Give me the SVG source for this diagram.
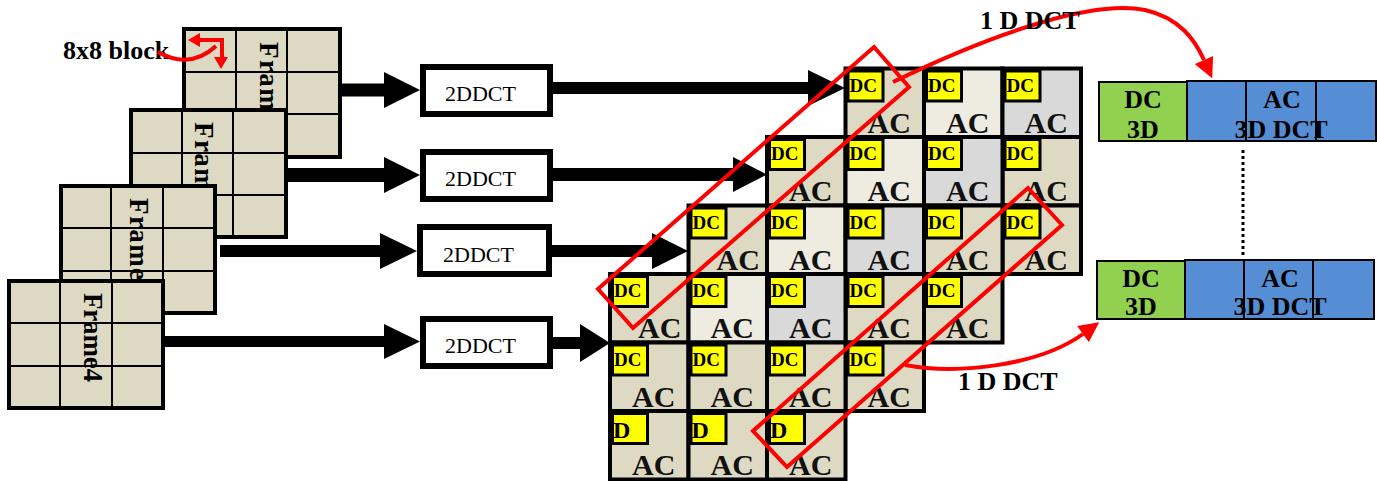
<svg xmlns="http://www.w3.org/2000/svg" width="1377" height="481" viewBox="0 0 1377 481">
<style>
.fr{fill:#DDD9C3;stroke:#000;stroke-width:4}
.fl{stroke:#000;stroke-width:2;fill:none}
.ft{font-family:"Liberation Serif",serif;font-weight:bold;font-size:27px;fill:#000}
.bx{fill:#fff;stroke:#000;stroke-width:6}
.bt{font-family:"Liberation Serif",serif;font-size:22px;fill:#000}
.ar{fill:#000}
.cb{fill:#DDD9C3;stroke:#000;stroke-width:4}
.cw{fill:#EEECE1;stroke:#000;stroke-width:4}
.cg{fill:#D9D9D9;stroke:#000;stroke-width:4}
.dc{fill:#FFFF00;stroke:#000;stroke-width:3}
.dt{font-family:"Liberation Serif",serif;font-weight:bold;font-size:19px;fill:#000}
.dd{font-family:"Liberation Serif",serif;font-weight:bold;font-size:24px;fill:#000}
.at{font-family:"Liberation Serif",serif;font-weight:bold;font-size:30px;fill:#111}
.rr{fill:none;stroke:#FF0000;stroke-width:4}
.lb{font-family:"Liberation Serif",serif;font-weight:bold;font-size:26px;fill:#000}
.gr{fill:#92D050;stroke:#000;stroke-width:2}
.bl{fill:#558ED5;stroke:#000;stroke-width:2}
.rt{font-family:"Liberation Serif",serif;font-weight:bold;font-size:26px;fill:#000;text-anchor:middle}
</style>
<defs>
<marker id="rh" viewBox="0 0 10 10" refX="0" refY="5" markerWidth="22" markerHeight="20" markerUnits="userSpaceOnUse" orient="auto">
<path d="M0,0 L10,5 L0,10 z" fill="#FF0000"/>
</marker>
</defs>

<!-- Frames -->
<g id="frame1">
<rect class="fr" x="184" y="29" width="156" height="128"/>
<path class="fl" d="M236,29V157M287,29V157M184,72H340M184,114H340"/>
<text class="ft" transform="translate(260,42) rotate(90)" textLength="82" lengthAdjust="spacing">Frame</text>
</g>
<g id="frame2">
<rect class="fr" x="131" y="110" width="155" height="127"/>
<path class="fl" d="M182,110V237M233,110V237M131,153H286M131,195H286"/>
<text class="ft" transform="translate(195,122) rotate(90)" textLength="82" lengthAdjust="spacing">Frame</text>
</g>
<g id="frame3">
<rect class="fr" x="61" y="186" width="154" height="127"/>
<path class="fl" d="M111,186V313M163,186V313M61,228H215M61,271H215"/>
<text class="ft" transform="translate(130,198) rotate(90)" textLength="82" lengthAdjust="spacing">Frame</text>
</g>
<g id="frame4">
<rect class="fr" x="9" y="281" width="154" height="127"/>
<path class="fl" d="M60,281V408M112,281V408M9,323H163M9,366H163"/>
<text class="ft" transform="translate(84,293) rotate(90)" textLength="89" lengthAdjust="spacing">Frame4</text>
</g>

<g id="label-8x8">
<text class="lb" x="63" y="59">8x8 block</text>
</g>

<!-- 2DDCT boxes -->
<g id="dct1"><rect class="bx" x="423" y="67" width="127" height="47"/><text class="bt" x="445" y="101">2DDCT</text></g>
<g id="dct2"><rect class="bx" x="423" y="152" width="127" height="47"/><text class="bt" x="445" y="186">2DDCT</text></g>
<g id="dct3"><rect class="bx" x="420" y="227" width="129" height="47"/><text class="bt" x="443" y="262">2DDCT</text></g>
<g id="dct4"><rect class="bx" x="423" y="319" width="127" height="47"/><text class="bt" x="445" y="353">2DDCT</text></g>

<!-- Stack of blocks -->
<g id="stack">
<!-- Layer 1 -->
<g transform="translate(845.5,68.5)"><rect class="cb" width="78.5" height="68.5"/><rect class="dc" x="2.5" y="2.5" width="35" height="30"/><text class="dt" x="4" y="23">DC</text><text class="at" x="22" y="64">AC</text></g>
<g transform="translate(924,68.5)"><rect class="cw" width="78.5" height="68.5"/><rect class="dc" x="2.5" y="2.5" width="35" height="30"/><text class="dt" x="4" y="23">DC</text><text class="at" x="22" y="64">AC</text></g>
<g transform="translate(1002.5,68.5)"><rect class="cg" width="78.5" height="68.5"/><rect class="dc" x="2.5" y="2.5" width="35" height="30"/><text class="dt" x="4" y="23">DC</text><text class="at" x="22" y="64">AC</text></g>
<g transform="translate(1002.5,137)"><rect class="cb" width="78.5" height="68.5"/><rect class="dc" x="2.5" y="2.5" width="35" height="30"/><text class="dt" x="4" y="23">DC</text><text class="at" x="22" y="64">AC</text></g>
<g transform="translate(1002.5,205.5)"><rect class="cb" width="78.5" height="68.5"/><rect class="dc" x="2.5" y="2.5" width="35" height="30"/><text class="dt" x="4" y="23">DC</text><text class="at" x="22" y="64">AC</text></g>
<!-- Layer 2 -->
<g transform="translate(767,137)"><rect class="cb" width="78.5" height="68.5"/><rect class="dc" x="2.5" y="2.5" width="35" height="30"/><text class="dt" x="4" y="23">DC</text><text class="at" x="22" y="64">AC</text></g>
<g transform="translate(845.5,137)"><rect class="cw" width="78.5" height="68.5"/><rect class="dc" x="2.5" y="2.5" width="35" height="30"/><text class="dt" x="4" y="23">DC</text><text class="at" x="22" y="64">AC</text></g>
<g transform="translate(924,137)"><rect class="cg" width="78.5" height="68.5"/><rect class="dc" x="2.5" y="2.5" width="35" height="30"/><text class="dt" x="4" y="23">DC</text><text class="at" x="22" y="64">AC</text></g>
<g transform="translate(924,205.5)"><rect class="cb" width="78.5" height="68.5"/><rect class="dc" x="2.5" y="2.5" width="35" height="30"/><text class="dt" x="4" y="23">DC</text><text class="at" x="22" y="64">AC</text></g>
<g transform="translate(924,274)"><rect class="cb" width="78.5" height="68.5"/><rect class="dc" x="2.5" y="2.5" width="35" height="30"/><text class="dt" x="4" y="23">DC</text><text class="at" x="22" y="64">AC</text></g>
<!-- Layer 3 -->
<g transform="translate(688.5,205.5)"><rect class="cb" width="78.5" height="68.5"/><rect class="dc" x="2.5" y="2.5" width="35" height="30"/><text class="dt" x="4" y="23">DC</text><text class="at" x="28" y="64">AC</text></g>
<g transform="translate(767,205.5)"><rect class="cw" width="78.5" height="68.5"/><rect class="dc" x="2.5" y="2.5" width="35" height="30"/><text class="dt" x="4" y="23">DC</text><text class="at" x="22" y="64">AC</text></g>
<g transform="translate(845.5,205.5)"><rect class="cg" width="78.5" height="68.5"/><rect class="dc" x="2.5" y="2.5" width="35" height="30"/><text class="dt" x="4" y="23">DC</text><text class="at" x="22" y="64">AC</text></g>
<g transform="translate(845.5,274)"><rect class="cb" width="78.5" height="68.5"/><rect class="dc" x="2.5" y="2.5" width="35" height="30"/><text class="dt" x="4" y="23">DC</text><text class="at" x="22" y="64">AC</text></g>
<g transform="translate(845.5,342.5)"><rect class="cb" width="78.5" height="68.5"/><rect class="dc" x="2.5" y="2.5" width="35" height="30"/><text class="dt" x="4" y="23">DC</text><text class="at" x="22" y="64">AC</text></g>
<!-- Layer 4 -->
<g transform="translate(610,274)"><rect class="cb" width="78.5" height="68.5"/><rect class="dc" x="2.5" y="2.5" width="35" height="30"/><text class="dt" x="4" y="23">DC</text><text class="at" x="28" y="64">AC</text></g>
<g transform="translate(688.5,274)"><rect class="cw" width="78.5" height="68.5"/><rect class="dc" x="2.5" y="2.5" width="35" height="30"/><text class="dt" x="4" y="23">DC</text><text class="at" x="22" y="64">AC</text></g>
<g transform="translate(767,274)"><rect class="cg" width="78.5" height="68.5"/><rect class="dc" x="2.5" y="2.5" width="35" height="30"/><text class="dt" x="4" y="23">DC</text><text class="at" x="22" y="64">AC</text></g>
<g transform="translate(610,342.5)"><rect class="cb" width="78.5" height="68.5"/><rect class="dc" x="2.5" y="2.5" width="35" height="30"/><text class="dt" x="4" y="23">DC</text><text class="at" x="22" y="64">AC</text></g>
<g transform="translate(688.5,342.5)"><rect class="cb" width="78.5" height="68.5"/><rect class="dc" x="2.5" y="2.5" width="35" height="30"/><text class="dt" x="4" y="23">DC</text><text class="at" x="22" y="64">AC</text></g>
<g transform="translate(767,342.5)"><rect class="cb" width="78.5" height="68.5"/><rect class="dc" x="2.5" y="2.5" width="35" height="30"/><text class="dt" x="4" y="23">DC</text><text class="at" x="22" y="64">AC</text></g>
<g transform="translate(610,411)"><rect class="cb" width="78.5" height="68.5"/><rect class="dc" x="2.5" y="2.5" width="35" height="30"/><text class="dd" x="3" y="27">D</text><text class="at" x="22" y="64">AC</text></g>
<g transform="translate(688.5,411)"><rect class="cb" width="78.5" height="68.5"/><rect class="dc" x="2.5" y="2.5" width="35" height="30"/><text class="dd" x="3" y="27">D</text><text class="at" x="22" y="64">AC</text></g>
<g transform="translate(767,411)"><rect class="cb" width="78.5" height="68.5"/><rect class="dc" x="2.5" y="2.5" width="35" height="30"/><text class="dd" x="3" y="27">D</text><text class="at" x="22" y="64">AC</text></g>
</g>

<!-- Right result boxes -->
<g id="result1">
<rect class="gr" x="1099" y="82" width="88" height="59"/>
<rect class="bl" x="1187" y="81" width="189" height="60"/>
<path class="fl" d="M1246,81V141M1316,81V141"/>
<text class="rt" x="1143" y="108">DC</text><text class="rt" x="1143" y="138">3D</text>
<text class="rt" x="1282" y="108">AC</text><text class="rt" x="1281" y="138">3D DCT</text>
</g>
<g id="result2">
<rect class="gr" x="1097" y="261" width="88" height="58"/>
<rect class="bl" x="1185" y="260" width="189" height="59"/>
<path class="fl" d="M1244,260V319M1313,260V319"/>
<text class="rt" x="1141" y="287">DC</text><text class="rt" x="1141" y="315">3D</text>
<text class="rt" x="1280" y="287">AC</text><text class="rt" x="1280" y="315">3D DCT</text>
</g>

<!-- Connectors -->
<g id="connectors">
<polygon class="ar" points="340,83.5 384,83.5 384,72 420,90 384,108 384,96.5 340,96.5"/>
<polygon class="ar" points="553,82 808,82 808,70 845,88 808,106 808,94 553,94"/>
<polygon class="ar" points="286,168 384,168 384,157 420,175 384,193 384,182 286,182"/>
<polygon class="ar" points="553,168 733,168 733,157 767,174.5 733,192 733,181 553,181"/>
<polygon class="ar" points="220,245 380,245 380,233 417,251 380,269 380,257 220,257"/>
<polygon class="ar" points="552,245 652,245 652,233 688,251 652,269 652,257 552,257"/>
<polygon class="ar" points="163,336 384,336 384,324 420,341.5 384,359 384,347 163,347"/>
<polygon class="ar" points="553,337 580,337 580,324 610,343 580,362 580,349 553,349"/>
<path d="M1243,150V257" stroke="#000" stroke-width="3" stroke-dasharray="3 3" fill="none"/>
<!-- red selection rectangles -->
<polygon class="rr" points="874,47 909,87 633,328 598,289"/>
<polygon class="rr" points="1028,188 1062,225 787,467 753,431"/>
<!-- red curved arrows -->
<path class="rr" d="M893,82 C1000,30 1095,0 1145,10 C1180,18 1195,40 1204,60" marker-end="url(#rh)"/>
<path class="rr" d="M905,365 C960,375 1040,365 1083,334" marker-end="url(#rh)"/>
<!-- 8x8 block pointer -->
<path class="rr" d="M158,52 Q190,70 216,46"/>
<path class="rr" d="M198,40 H222 V58"/>
<polygon points="188,40 200,33 200,47" fill="#FF0000"/>
<polygon points="221,69 214,57 228,57" fill="#FF0000"/>
</g>

<g id="labels">
<text class="lb" x="980" y="29">1 D DCT</text>
<text class="lb" x="958" y="390">1 D DCT</text>
</g>
</svg>
